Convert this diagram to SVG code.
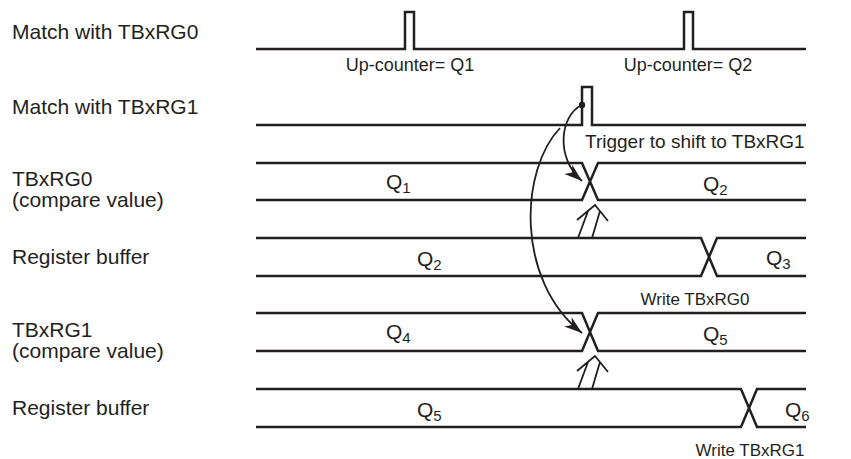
<svg xmlns="http://www.w3.org/2000/svg" width="851" height="459" viewBox="0 0 851 459">
<defs>
<style>
.w{fill:none;stroke:#231f20;stroke-width:2.5;stroke-linejoin:miter}
.lbl{font-family:"Liberation Sans",Arial,sans-serif;font-size:21px;fill:#231f20}
.tr{font-family:"Liberation Sans",Arial,sans-serif;font-size:19px;fill:#231f20}
.sm{font-family:"Liberation Sans",Arial,sans-serif;font-size:18px;fill:#231f20}
.wr{font-family:"Liberation Sans",Arial,sans-serif;font-size:17px;fill:#231f20}
.q{font-family:"Liberation Sans",Arial,sans-serif;font-size:21px;fill:#231f20}
.sub{font-size:15px}
.c{fill:none;stroke:#231f20;stroke-width:1.8}
.da{fill:none;stroke:#231f20;stroke-width:1.8}
</style>
<marker id="ah" markerUnits="userSpaceOnUse" markerWidth="22" markerHeight="14" refX="18" refY="6" orient="auto">
<path d="M0,0 L18,6 L0,12 L5,6 z" fill="#231f20"/>
</marker>
</defs>
<rect width="851" height="459" fill="#ffffff"/>

<g id="row-match0">
<text class="lbl" x="12" y="39">Match with TBxRG0</text>
<path class="w" d="M256,49 H405 V12 H414 V49 H684 V12 H693 V49 H806"/>
<text class="sm" x="410" y="71" text-anchor="middle">Up-counter= Q1</text>
<text class="sm" x="688" y="71" text-anchor="middle">Up-counter= Q2</text>
</g>

<g id="row-match1">
<text class="lbl" x="12" y="114">Match with TBxRG1</text>
<path class="w" d="M256,125 H582 V87 H592 V125 H806"/>
<circle cx="582" cy="105" r="3.2" fill="#231f20"/>
<text class="tr" x="585" y="148">Trigger to shift to TBxRG1</text>
</g>

<g id="row-tbxrg0">
<text class="lbl" x="12" y="186">TBxRG0</text>
<text class="lbl" x="12" y="207">(compare value)</text>
<path class="w" d="M256,163 H582 L598,200 H806 M256,200 H582 L598,163 H806"/>
<text class="q" x="386" y="189">Q<tspan class="sub" dy="4">1</tspan></text>
<text class="q" x="703" y="191">Q<tspan class="sub" dy="4">2</tspan></text>
</g>

<g id="row-regbuf0">
<text class="lbl" x="12" y="264">Register buffer</text>
<path class="w" d="M256,238 H701 L717,276 H806 M256,276 H701 L717,238 H806"/>
<text class="q" x="417" y="266">Q<tspan class="sub" dy="4">2</tspan></text>
<text class="q" x="766" y="265">Q<tspan class="sub" dy="4">3</tspan></text>
<text class="wr" x="695" y="305" text-anchor="middle">Write TBxRG0</text>
</g>

<g id="row-tbxrg1">
<text class="lbl" x="12" y="337">TBxRG1</text>
<text class="lbl" x="12" y="358">(compare value)</text>
<path class="w" d="M256,313 H582 L598,351 H806 M256,351 H582 L598,313 H806"/>
<text class="q" x="386" y="339">Q<tspan class="sub" dy="4">4</tspan></text>
<text class="q" x="703" y="341">Q<tspan class="sub" dy="4">5</tspan></text>
</g>

<g id="row-regbuf1">
<text class="lbl" x="12" y="415">Register buffer</text>
<path class="w" d="M256,389 H741 L757,427 H806 M256,427 H741 L757,389 H806"/>
<text class="q" x="417" y="417">Q<tspan class="sub" dy="4">5</tspan></text>
<text class="q" x="785" y="417">Q<tspan class="sub" dy="4">6</tspan></text>
<text class="wr" x="750" y="456" text-anchor="middle">Write TBxRG1</text>
</g>

<g id="connectors">
<path class="c" d="M582,105 C560,115 555,158 582,181" marker-end="url(#ah)"/>
<path class="c" d="M560,128 C520,170 515,280 582,333" marker-end="url(#ah)"/>
<path class="da" d="M578,238 L588,211 M592,238 L600,211 M577,220 L595,205 L608,221"/>
<path class="da" d="M578,389 L588,362 M592,389 L600,362 M577,371 L595,356 L608,372"/>
</g>
</svg>
